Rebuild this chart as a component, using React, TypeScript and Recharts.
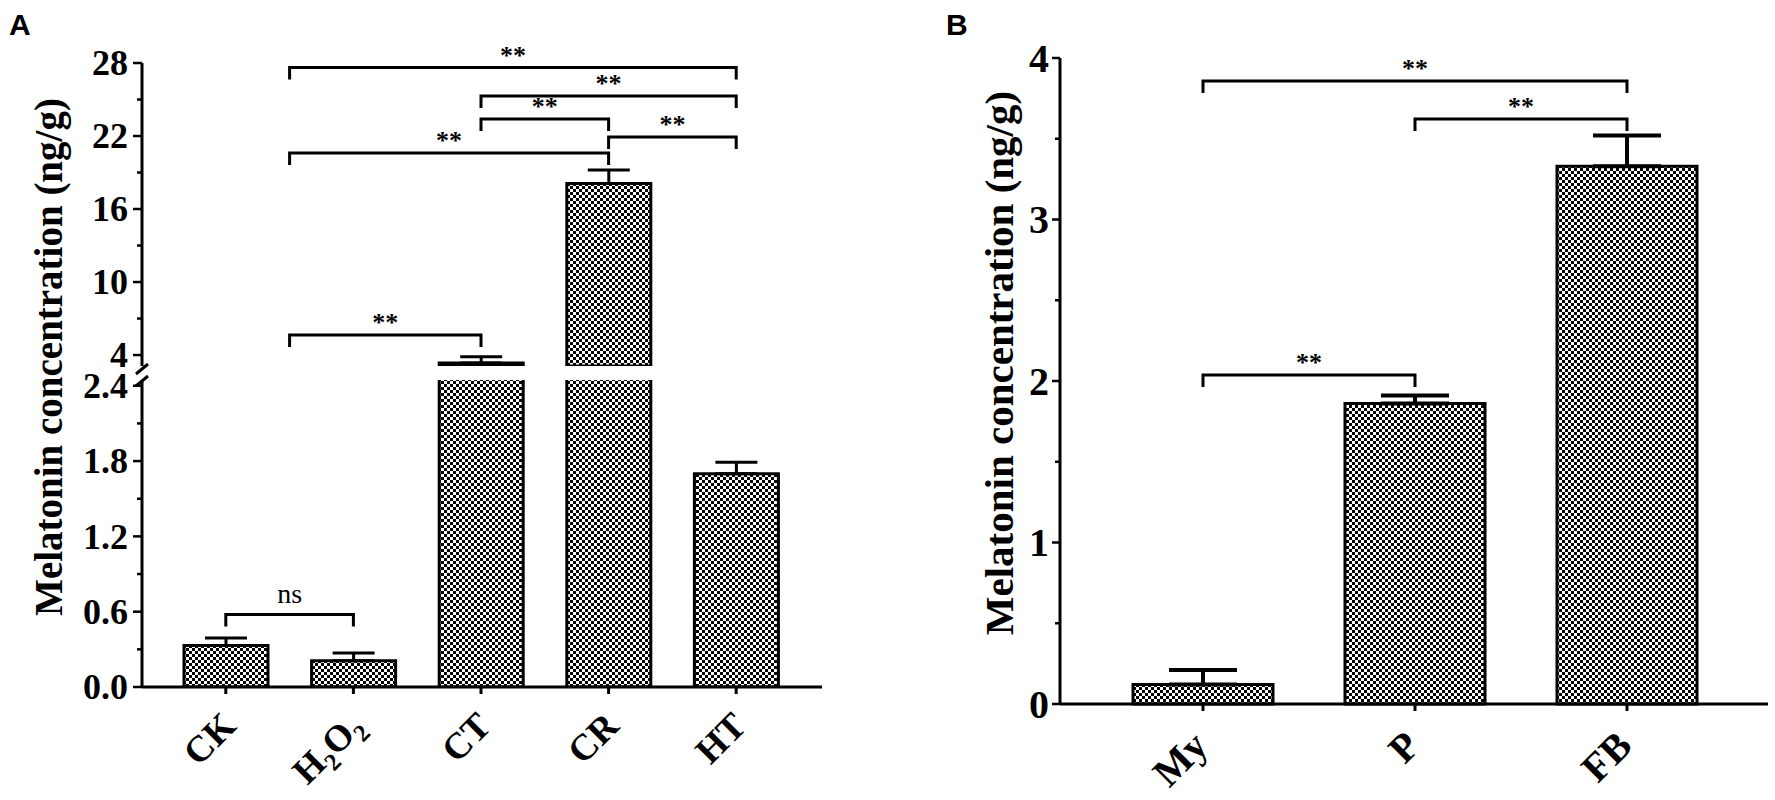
import React from "react";
import { BarChart, Bar, XAxis, YAxis, ErrorBar } from "recharts";

// ---- data ----
const groupsA = ["CK", "H2O2", "CT", "CR", "HT"];
const meansA = [0.33, 0.21, 3.35, 18.1, 1.7];
const semA = [0.06, 0.06, 0.5, 1.1, 0.09];

const groupsB = ["My", "P", "FB"];
const meansB = [0.12, 1.86, 3.33];
const semB = [0.09, 0.05, 0.19];

const upperTicksA = [4, 10, 16, 22, 28];
const upperMinorA = [7, 13, 19, 25];
const lowerTicksA = [0, 0.6, 1.2, 1.8, 2.4];
const lowerMinorA = [0.3, 0.9, 1.5, 2.1];
const ticksB = [0, 1, 2, 3, 4];
const minorB = [0.5, 1.5, 2.5, 3.5];

// significance brackets: [fromIndex, toIndex, level, text]; 0.5 = between CK and H2O2
const sigUpperA: [number, number, number, string][] = [
  [0.5, 4, 27.63, "**"],
  [2, 4, 25.29, "**"],
  [2, 3, 23.4, "**"],
  [3, 4, 21.92, "**"],
  [0.5, 3, 20.6, "**"],
  [0.5, 2, 5.65, "**"],
];
const sigLowerA: [number, number, number, string][] = [[0, 1, 0.578, "ns"]];
const sigB: [number, number, number, string][] = [
  [0, 2, 3.858, "**"],
  [1, 2, 3.623, "**"],
  [0, 1, 2.037, "**"],
];

// ---- layout ----
const SERIF = "Liberation Serif, Times New Roman, serif";
const A_LEFT = 142;
const A_RIGHT = 822;
const A_PAD = { left: 20, right: 22 };
const A_UP_TOP = 63;
const A_UP_BOTTOM = 366;
const A_UP_MIN = 3.1;
const A_UP_MAX = 28;
const A_LO_TOP = 380;
const A_LO_BOTTOM = 687;
const A_LO_MAX = 2.446;

const B_CHART_LEFT = 830;
const B_LEFT = 1060;
const B_RIGHT = 1768;
const B_PAD = { left: 37, right: 35 };
const B_TOP = 58;
const B_BOTTOM = 704;

const bandA = (A_RIGHT - A_LEFT - A_PAD.left - A_PAD.right) / groupsA.length;
const bandB = (B_RIGHT - B_LEFT - B_PAD.left - B_PAD.right) / groupsB.length;
const xA = (i: number) => A_LEFT + A_PAD.left + bandA * (i + 0.5);
const xB = (i: number) => B_LEFT + B_PAD.left + bandB * (i + 0.5);
const yAu = (v: number) =>
  A_UP_TOP + ((A_UP_MAX - v) * (A_UP_BOTTOM - A_UP_TOP)) / (A_UP_MAX - A_UP_MIN);
const yAl = (v: number) => A_LO_TOP + ((A_LO_MAX - v) * (A_LO_BOTTOM - A_LO_TOP)) / A_LO_MAX;
const yB = (v: number) => B_TOP + ((4 - v) * (B_BOTTOM - B_TOP)) / 4;

// upper segment shows only bars that reach above the break; lower segment error bars only below it
const dataA = groupsA.map((name, i) => ({
  name,
  value: meansA[i],
  err: meansA[i] < A_LO_MAX ? [0, semA[i]] : null,
  upper: meansA[i] > A_UP_MIN ? meansA[i] : null,
  errUp: meansA[i] > A_UP_MIN ? [0, semA[i]] : null,
}));
const dataB = groupsB.map((name, i) => ({ name, value: meansB[i], err: [0, semB[i]] }));

function YTick(props: any) {
  const { x, y, payload, majors, fontSize, gap, majorLen, minorLen, fmt } = props;
  const major = majors.includes(payload.value);
  return (
    <g>
      <line
        x1={x - (major ? majorLen : minorLen)}
        x2={x}
        y1={y}
        y2={y}
        stroke="#000"
        strokeWidth={2.5}
      />
      {major && (
        <text
          x={x - gap}
          y={y}
          dy="0.34em"
          textAnchor="end"
          fontFamily={SERIF}
          fontWeight="bold"
          fontSize={fontSize}
          fill="#000"
        >
          {fmt(payload.value)}
        </text>
      )}
    </g>
  );
}

function catLabel(name: string, fs: number) {
  if (name === "H2O2") {
    const sub = fs * 0.66;
    const d = fs * 0.24;
    return [
      <tspan key="h">H</tspan>,
      <tspan key="s1" fontSize={sub} dy={d}>2</tspan>,
      <tspan key="o" dy={-d}>O</tspan>,
      <tspan key="s2" fontSize={sub} dy={d}>2</tspan>,
    ];
  }
  return name;
}

function XTick(props: any) {
  const { x, y, payload, fontSize, dx, dy } = props;
  const ax = x + dx;
  const ay = y + dy;
  return (
    <text
      x={ax}
      y={ay}
      transform={`rotate(-45, ${ax}, ${ay})`}
      textAnchor="end"
      fontFamily={SERIF}
      fontWeight="bold"
      fontSize={fontSize}
      fill="#000"
    >
      {catLabel(payload.value, fontSize)}
    </text>
  );
}

function Brackets({
  list,
  xf,
  yf,
}: {
  list: [number, number, number, string][];
  xf: (i: number) => number;
  yf: (v: number) => number;
}) {
  return (
    <g>
      {list.map(([a, b, lvl, txt], k) => {
        const x1 = xf(a);
        const x2 = xf(b);
        const y = yf(lvl);
        const ns = txt === "ns";
        return (
          <g key={k}>
            <path
              d={`M${x1},${y + 12} L${x1},${y} L${x2},${y} L${x2},${y + 12}`}
              fill="none"
              stroke="#000"
              strokeWidth={3}
            />
            <text
              x={(x1 + x2) / 2}
              y={ns ? y - 11 : y - 4}
              textAnchor="middle"
              fontFamily={SERIF}
              fontWeight={ns ? "normal" : "bold"}
              fontSize={ns ? 28 : 26}
              fill="#000"
            >
              {txt}
            </text>
          </g>
        );
      })}
    </g>
  );
}

const barStroke = { stroke: "#000", strokeWidth: 3 };
const abs = (left: number): React.CSSProperties => ({ position: "absolute", left, top: 0 });

export default function App() {
  return (
    <div
      style={{
        position: "absolute",
        left: 0,
        top: 0,
        width: 1775,
        height: 800,
        background: "#fff",
        overflow: "hidden",
      }}
    >
      <svg width={0} height={0} style={{ position: "absolute" }}>
        <defs>
          <pattern id="check" width={6} height={6} patternUnits="userSpaceOnUse">
            <rect width={6} height={6} fill="#fff" />
            <rect width={3} height={3} fill="#000" />
            <rect x={3} y={3} width={3} height={3} fill="#000" />
          </pattern>
        </defs>
      </svg>

      {/* panel A, upper segment */}
      <div style={abs(0)}>
        <BarChart
          width={860}
          height={A_UP_BOTTOM + 34}
          data={dataA}
          margin={{ top: A_UP_TOP, right: 860 - A_RIGHT, bottom: 34, left: 0 }}
        >
          <XAxis dataKey="name" hide padding={A_PAD} />
          <YAxis
            width={A_LEFT}
            type="number"
            domain={[A_UP_MIN, A_UP_MAX]}
            allowDataOverflow
            ticks={[...upperTicksA, ...upperMinorA].sort((a, b) => a - b)}
            interval={0}
            tickLine={false}
            tickSize={0}
            tickMargin={0}
            axisLine={{ stroke: "#000", strokeWidth: 3 }}
            tick={
              <YTick majors={upperTicksA} fontSize={36} gap={14} majorLen={9} minorLen={5} fmt={(v: number) => String(v)} />
            }
          />
          <Bar dataKey="upper" fill="url(#check)" {...barStroke} barSize={84} isAnimationActive={false}>
            <ErrorBar dataKey="errUp" width={21} stroke="#000" strokeWidth={3} direction="y" />
          </Bar>
        </BarChart>
      </div>

      {/* panel A, lower segment */}
      <div style={abs(0)}>
        <BarChart
          width={860}
          height={800}
          data={dataA}
          margin={{ top: A_LO_TOP, right: 860 - A_RIGHT, bottom: 0, left: 0 }}
        >
          <XAxis
            dataKey="name"
            padding={A_PAD}
            height={800 - A_LO_BOTTOM}
            interval={0}
            tickSize={7}
            tickMargin={0}
            axisLine={{ stroke: "#000", strokeWidth: 3 }}
            tickLine={{ stroke: "#000", strokeWidth: 3 }}
            tick={<XTick fontSize={37} dx={12} dy={34} />}
          />
          <YAxis
            width={A_LEFT}
            type="number"
            domain={[0, A_LO_MAX]}
            allowDataOverflow
            ticks={[...lowerTicksA, ...lowerMinorA].sort((a, b) => a - b)}
            interval={0}
            tickLine={false}
            tickSize={0}
            tickMargin={0}
            axisLine={{ stroke: "#000", strokeWidth: 3 }}
            tick={
              <YTick majors={lowerTicksA} fontSize={36} gap={14} majorLen={9} minorLen={5} fmt={(v: number) => v.toFixed(1)} />
            }
          />
          <Bar dataKey="value" fill="url(#check)" {...barStroke} barSize={84} isAnimationActive={false}>
            <ErrorBar dataKey="err" width={21} stroke="#000" strokeWidth={3} direction="y" />
          </Bar>
        </BarChart>
      </div>

      {/* panel B */}
      <div style={abs(B_CHART_LEFT)}>
        <BarChart
          width={1775 - B_CHART_LEFT}
          height={800}
          data={dataB}
          margin={{ top: B_TOP, right: 1775 - B_RIGHT, bottom: 0, left: 0 }}
        >
          <XAxis
            dataKey="name"
            padding={B_PAD}
            height={800 - B_BOTTOM}
            interval={0}
            tickSize={7}
            tickMargin={0}
            axisLine={{ stroke: "#000", strokeWidth: 3 }}
            tickLine={{ stroke: "#000", strokeWidth: 3 }}
            tick={<XTick fontSize={40} dx={7} dy={37} />}
          />
          <YAxis
            width={B_LEFT - B_CHART_LEFT}
            type="number"
            domain={[0, 4]}
            ticks={[...ticksB, ...minorB].sort((a, b) => a - b)}
            interval={0}
            tickLine={false}
            tickSize={0}
            tickMargin={0}
            axisLine={{ stroke: "#000", strokeWidth: 3 }}
            tick={
              <YTick majors={ticksB} fontSize={40} gap={11} majorLen={8} minorLen={5} fmt={(v: number) => String(v)} />
            }
          />
          <Bar dataKey="value" fill="url(#check)" {...barStroke} barSize={140} isAnimationActive={false}>
            <ErrorBar dataKey="err" width={34} stroke="#000" strokeWidth={4} direction="y" />
          </Bar>
        </BarChart>
      </div>

      {/* annotations */}
      <svg
        width={1775}
        height={800}
        style={{ position: "absolute", left: 0, top: 0, pointerEvents: "none" }}
      >
        <text x={9} y={35} fontFamily="Liberation Sans, Arial, sans-serif" fontWeight="bold" fontSize={30}>
          A
        </text>
        <text x={946} y={35} fontFamily="Liberation Sans, Arial, sans-serif" fontWeight="bold" fontSize={30}>
          B
        </text>
        <text
          x={62}
          y={357}
          transform="rotate(-90, 62, 357)"
          textAnchor="middle"
          fontFamily={SERIF}
          fontWeight="bold"
          fontSize={39}
        >
          Melatonin concentration (ng/g)
        </text>
        <text
          x={1013}
          y={363}
          transform="rotate(-90, 1013, 363)"
          textAnchor="middle"
          fontFamily={SERIF}
          fontWeight="bold"
          fontSize={41}
        >
          Melatonin concentration (ng/g)
        </text>
        {/* axis break marks */}
        <line x1={136} y1={374} x2={148} y2={364} stroke="#000" strokeWidth={3} />
        <line x1={136} y1={386} x2={148} y2={376} stroke="#000" strokeWidth={3} />
        <Brackets list={sigUpperA} xf={xA} yf={yAu} />
        <Brackets list={sigLowerA} xf={xA} yf={yAl} />
        <Brackets list={sigB} xf={xB} yf={yB} />
      </svg>
    </div>
  );
}
